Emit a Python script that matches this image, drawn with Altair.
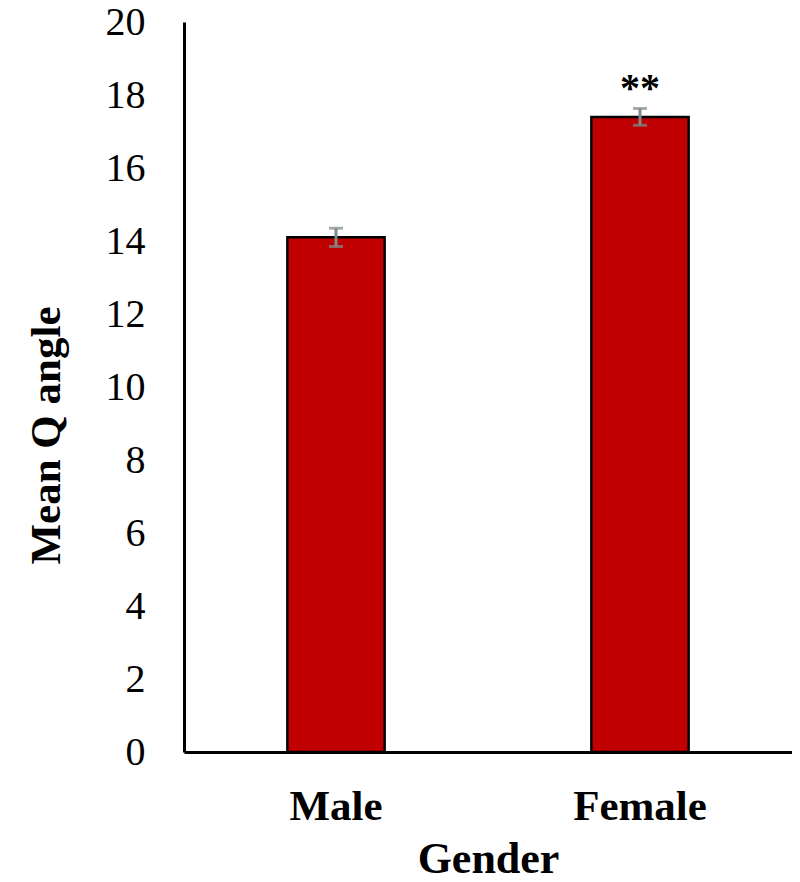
import altair as alt
import pandas as pd

genders = ["Male", "Female"]
means = [14.1, 17.4]
errors = [0.25, 0.23]
marks = ["", "**"]

df = pd.DataFrame({
    "Gender": genders,
    "Mean": means,
    "Err": errors,
    "Sig": marks,
})
df["Lo"] = df["Mean"] - df["Err"]
df["Hi"] = df["Mean"] + df["Err"]

FONT = "Liberation Serif"
PLOT_H = 730
PLOT_W = 608

x_enc = alt.X(
    "Gender:N",
    sort=genders,
    scale=alt.Scale(paddingInner=0.68, paddingOuter=0.34),
    axis=alt.Axis(
        title="Gender",
        labelAngle=0,
        labelFont=FONT,
        labelFontSize=43,
        labelFontWeight="bold",
        labelColor="black",
        labelBaseline="alphabetic",
        labelPadding=67,
        ticks=False,
        tickSize=0,
        domainColor="black",
        domainWidth=3,
        titleFont=FONT,
        titleFontSize=44,
        titleFontWeight="bold",
        titleColor="black",
        titleX=304,
        titleY=120,
        titleBaseline="alphabetic",
        titleAlign="center",
    ),
)

y_scale = alt.Scale(domain=[0, 20], nice=False)

bars = alt.Chart(df).mark_bar(
    color="#C00000", stroke="black", strokeWidth=2.5
).encode(
    x=x_enc,
    y=alt.Y(
        "Mean:Q",
        scale=y_scale,
        axis=alt.Axis(
            title="Mean Q angle",
            values=list(range(0, 21, 2)),
            grid=False,
            ticks=False,
            tickSize=0,
            labelFont=FONT,
            labelFontSize=40,
            labelColor="black",
            labelPadding=39,
            domainColor="black",
            domainWidth=3,
            titleFont=FONT,
            titleFontSize=43,
            titleFontWeight="bold",
            titleColor="black",
            titleX=-138,
            titleY=413,
            titleAngle=270,
            titleBaseline="middle",
            titleAlign="center",
        ),
    ),
)

err_rule = alt.Chart(df).mark_rule(color="#7F8A8C", strokeWidth=3).encode(
    x=alt.X("Gender:N", sort=genders),
    y=alt.Y("Lo:Q", scale=y_scale),
    y2="Hi:Q",
)
cap_lo = alt.Chart(df).mark_tick(
    color="#7F8A8C", size=14, thickness=3, orient="horizontal"
).encode(x=alt.X("Gender:N", sort=genders), y=alt.Y("Lo:Q", scale=y_scale))
cap_hi = alt.Chart(df).mark_tick(
    color="#7F8A8C", size=14, thickness=3, orient="horizontal"
).encode(x=alt.X("Gender:N", sort=genders), y=alt.Y("Hi:Q", scale=y_scale))

sig = alt.Chart(df).mark_text(
    font=FONT, fontSize=40, fontWeight="bold", color="black",
    baseline="alphabetic", dy=-8,
).encode(
    x=alt.X("Gender:N", sort=genders),
    y=alt.Y("Hi:Q", scale=y_scale),
    text="Sig:N",
)

chart = alt.layer(bars, err_rule, cap_lo, cap_hi, sig).properties(
    width=PLOT_W,
    height=PLOT_H,
    autosize=alt.AutoSizeParams(type="none"),
    padding={"left": 176, "top": 14, "right": 0, "bottom": 124},
    background="white",
).configure_view(stroke=None)

chart.save("out.html", embed_options={"renderer": "svg", "actions": False})
